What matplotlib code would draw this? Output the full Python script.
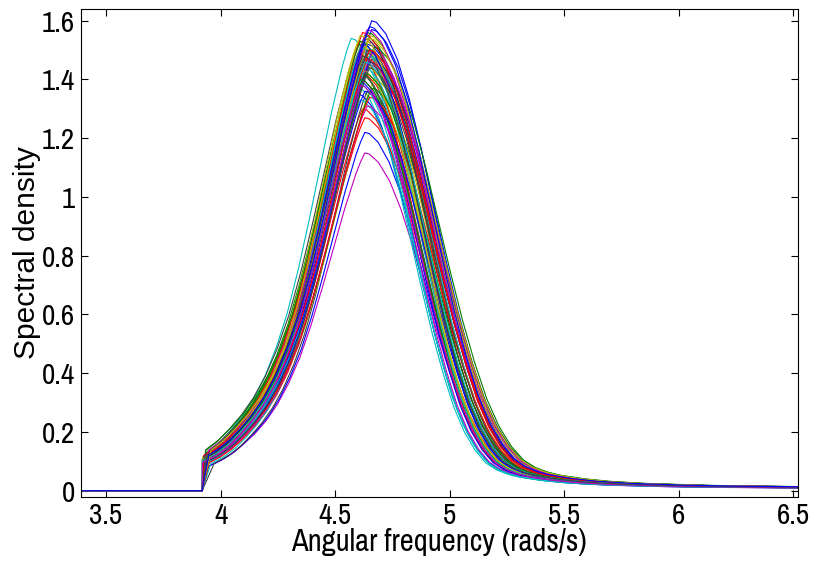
import numpy as np
import matplotlib
matplotlib.use("Agg")
import matplotlib.pyplot as plt

# shape of a typical curve (peak at 4.64)
profile_freq = [3.93, 3.96, 4.00, 4.05, 4.10, 4.15, 4.20, 4.25, 4.30, 4.35,
                4.40, 4.45, 4.50, 4.55, 4.60, 4.62, 4.64, 4.66, 4.70, 4.75,
                4.80, 4.85, 4.90, 4.95, 5.00, 5.05, 5.10, 5.15, 5.20, 5.25,
                5.30, 5.35, 5.40, 5.50, 5.60, 5.75, 6.00, 6.25, 6.52, 7.00]
profile_density = [0.100, 0.112, 0.130, 0.160, 0.200, 0.245, 0.300, 0.370, 0.460, 0.570,
                   0.710, 0.870, 1.040, 1.210, 1.360, 1.410, 1.450, 1.445, 1.410, 1.330,
                   1.210, 1.060, 0.890, 0.720, 0.560, 0.420, 0.300, 0.210, 0.145, 0.100,
                   0.075, 0.060, 0.050, 0.038, 0.030, 0.023, 0.017, 0.014, 0.012, 0.010]
profile_peak_freq = 4.64
profile_peak = 1.45

cutoff_freq = 3.92
start_freq = 3.39

# per-curve peak height, peak frequency and spread
peak_height = [1.60, 1.50, 1.42, 1.54, 1.15, 1.48, 1.52, 1.22, 1.55, 1.30, 1.38,
               1.45, 1.51, 1.36, 1.57, 1.44, 1.27, 1.47, 1.53, 1.40, 1.49, 1.35,
               1.56, 1.46, 1.33, 1.50, 1.55, 1.42, 1.52, 1.37, 1.49, 1.44, 1.31,
               1.53, 1.47, 1.39, 1.51, 1.56, 1.48, 1.41, 1.45, 1.54, 1.46, 1.40,
               1.34, 1.51, 1.57, 1.43, 1.50, 1.36, 1.53, 1.47, 1.39, 1.49, 1.55,
               1.44, 1.52, 1.42, 1.50, 1.46, 1.38, 1.54, 1.48, 1.58]
peak_freq = [4.66, 4.65, 4.62, 4.57, 4.63, 4.64, 4.60, 4.63, 4.63, 4.62, 4.59,
             4.65, 4.61, 4.64, 4.66, 4.59, 4.63, 4.60, 4.64, 4.67, 4.64, 4.60,
             4.64, 4.65, 4.61, 4.62, 4.65, 4.61, 4.64, 4.66, 4.60, 4.63, 4.64,
             4.60, 4.66, 4.61, 4.67, 4.62, 4.65, 4.60, 4.63, 4.63, 4.65, 4.61,
             4.65, 4.61, 4.64, 4.62, 4.64, 4.63, 4.61, 4.64, 4.60, 4.66, 4.61,
             4.65, 4.62, 4.63, 4.65, 4.63, 4.61, 4.65, 4.62, 4.65]
spread = [1.02, 1.08, 1.00, 0.96, 0.98, 1.09, 1.04, 0.96, 1.06, 0.97, 0.93,
          1.04, 1.01, 0.94, 1.05, 1.02, 0.99, 0.96, 1.08, 1.05, 1.02, 0.94,
          1.10, 1.00, 0.92, 1.01, 1.04, 0.98, 1.06, 1.04, 0.96, 0.97, 1.01,
          0.99, 1.08, 0.95, 1.07, 1.02, 1.00, 0.94, 1.05, 1.00, 1.03, 0.98,
          1.03, 0.96, 1.04, 1.00, 1.05, 0.99, 1.02, 1.06, 0.93, 1.06, 0.97,
          1.00, 0.98, 1.03, 1.02, 1.00, 0.97, 1.08, 1.00, 1.03]

# old MATLAB colour order
colours = [(0, 0, 1), (0, 0.5, 0), (1, 0, 0), (0, 0.75, 0.75),
           (0.75, 0, 0.75), (0.75, 0.75, 0), (0.25, 0.25, 0.25)]

x_ticks = [3.5, 4, 4.5, 5, 5.5, 6, 6.5]
x_tick_labels = ["3.5", "4", "4.5", "5", "5.5", "6", "6.5"]
y_ticks = [0, 0.2, 0.4, 0.6, 0.8, 1, 1.2, 1.4, 1.6]
y_tick_labels = ["0", "0.2", "0.4", "0.6", "0.8", "1", "1.2", "1.4", "1.6"]

narrow = ["Archivo Narrow", "Roboto Condensed", "Liberation Sans", "DejaVu Sans"]
regular = ["Liberation Sans", "DejaVu Sans"]

fig = plt.figure(figsize=(8.13, 5.66), dpi=100)
ax = fig.add_axes([0.0993, 0.1224, 0.9812 - 0.0993, 0.9836 - 0.1224])

pf = np.array(profile_freq)
pd = np.array(profile_density)

for i in range(len(peak_height)):
    xs = peak_freq[i] + (pf - profile_peak_freq) * spread[i]
    ys = pd * peak_height[i] / profile_peak
    keep = xs > cutoff_freq
    xs = np.concatenate([[start_freq, cutoff_freq], xs[keep]])
    ys = np.concatenate([[0, 0], ys[keep]])
    ax.plot(xs, ys, color=colours[i % 7], lw=0.8)

ax.set_xlim(3.39, 6.519)
ax.set_ylim(-0.0204, 1.639)

ax.set_xticks(x_ticks)
ax.set_xticklabels(x_tick_labels, family=narrow, fontsize=21)
ax.set_yticks(y_ticks)
ax.set_yticklabels(y_tick_labels, family=narrow, fontsize=21)
ax.tick_params(direction="in", length=5, width=0.8, top=True, right=True, pad=4)

for sp in ax.spines.values():
    sp.set_linewidth(0.8)

ax.set_xlabel("Angular frequency (rads/s)", family=narrow, fontsize=22, labelpad=-1)
ax.set_ylabel("Spectral density", family=regular, fontsize=21.5, labelpad=1)

fig.savefig("out.png", dpi=100)
